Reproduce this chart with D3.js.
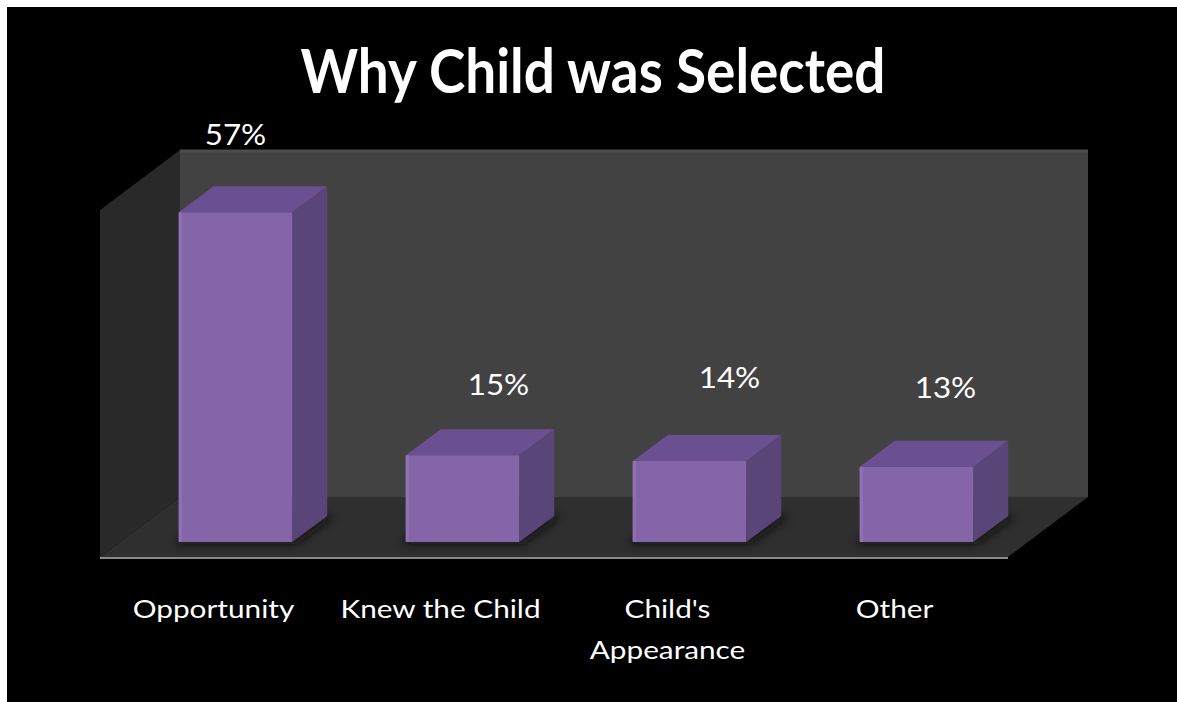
<!DOCTYPE html>
<html>
<head>
<meta charset="utf-8">
<script src="https://cdn.jsdelivr.net/npm/d3@7"></script>
<style>
  html, body { margin: 0; padding: 0; background: #ffffff; }
  svg { display: block; }
</style>
</head>
<body>
<svg id="chart" width="1177" height="702"></svg>
<script>
// ---- data ----
const title = "Why Child was Selected";
const categories = ["Opportunity", "Knew the Child", "Child's\nAppearance", "Other"];
const values = [0.57, 0.15, 0.14, 0.13];
const valueLabels = ["57%", "15%", "14%", "13%"];
const axisMax = 0.6;

// ---- layout (not data) ----
const W = 1177, H = 702;
const front = { left: 100, right: 1008, floor: 557, top: 210 };
const depth = { dx: 80, dy: -60 };        // wall depth
const barOff = { dx: 22, dy: -15 };       // bar front face offset into depth
const barDepth = { dx: 35, dy: -26 };     // bar thickness
const labelNudge = [[-35, -41], [1, -34], [5, -47], [-6, -43]]; // label placement relative to bar back-top centre
const textStretch = 1.19;                 // horizontal stretch of the original text rendering

const svg = d3.select("#chart");
const defs = svg.append("defs");
const blur = defs.append("filter").attr("id", "shadow").attr("x", "-50%").attr("y", "-50%").attr("width", "200%").attr("height", "200%");
blur.append("feGaussianBlur").attr("stdDeviation", 5);

svg.append("rect").attr("x", 7).attr("y", 7).attr("width", W - 7).attr("height", H - 7).attr("fill", "#000");

const x = d3.scaleBand().domain(categories).range([front.left, front.right]).paddingInner(0.5).paddingOuter(0.25);
const y = d3.scaleLinear().domain([0, axisMax]).range([front.floor, front.top]);

const pts = a => a.map(p => p.join(",")).join(" ");

// back wall
svg.append("polygon")
  .attr("points", pts([
    [front.left + depth.dx, front.top + depth.dy],
    [front.right + depth.dx, front.top + depth.dy],
    [front.right + depth.dx, front.floor + depth.dy],
    [front.left + depth.dx, front.floor + depth.dy]]))
  .attr("fill", "#424242");
svg.append("line")
  .attr("x1", front.left + depth.dx).attr("x2", front.right + depth.dx)
  .attr("y1", front.top + depth.dy + 1).attr("y2", front.top + depth.dy + 1)
  .attr("stroke", "#4c4c4c").attr("stroke-width", 3);

// left side wall
svg.append("polygon")
  .attr("points", pts([
    [front.left, front.top],
    [front.left + depth.dx, front.top + depth.dy],
    [front.left + depth.dx, front.floor + depth.dy],
    [front.left, front.floor]]))
  .attr("fill", "#292929");

// floor
svg.append("polygon")
  .attr("points", pts([
    [front.left, front.floor],
    [front.left + depth.dx, front.floor + depth.dy],
    [front.right + depth.dx, front.floor + depth.dy],
    [front.right, front.floor]]))
  .attr("fill", "#2f2f2f");
svg.append("line")
  .attr("x1", front.left).attr("x2", front.right)
  .attr("y1", front.floor + 1).attr("y2", front.floor + 1)
  .attr("stroke", "#8a8a8a").attr("stroke-width", 2);

// bars
const bars = svg.append("g");
categories.forEach((c, i) => {
  const x0 = x(c) + barOff.dx, x1 = x0 + x.bandwidth();
  const yb = y(0) + barOff.dy, yt = y(values[i]) + barOff.dy;
  const g = bars.append("g");
  // shadow
  g.append("polygon")
    .attr("points", pts([[x0 - 6, yb + 2], [x1 + 4, yb + 2], [x1 + barDepth.dx + 8, yb + barDepth.dy], [x0 + barDepth.dx, yb + barDepth.dy]]))
    .attr("fill", "#111").attr("opacity", 0.8).attr("filter", "url(#shadow)");
  // side
  g.append("polygon")
    .attr("points", pts([[x1, yt], [x1 + barDepth.dx, yt + barDepth.dy], [x1 + barDepth.dx, yb + barDepth.dy], [x1, yb]]))
    .attr("fill", "#5a4578");
  // top
  g.append("polygon")
    .attr("points", pts([[x0, yt], [x0 + barDepth.dx, yt + barDepth.dy], [x1 + barDepth.dx, yt + barDepth.dy], [x1, yt]]))
    .attr("fill", "#6a5090");
  // front
  g.append("rect")
    .attr("x", x0).attr("y", yt).attr("width", x1 - x0).attr("height", yb - yt)
    .attr("fill", "#8465a8");
  g.append("rect")
    .attr("x", x0).attr("y", yt).attr("width", 3).attr("height", yb - yt)
    .attr("fill", "#8f72b4");

  // value label
  const cx = (x0 + x1) / 2 + barDepth.dx;
  const ty = yt + barDepth.dy;
  svg.append("text")
    .attr("transform", `translate(${cx + labelNudge[i][0]},${ty + labelNudge[i][1]}) scale(1.08,1)`)
    .attr("text-anchor", "middle")
    .attr("font-family", "Lato, 'Open Sans', sans-serif")
    .attr("font-size", 29)
    .attr("fill", "#ffffff")
    .text(valueLabels[i]);
});

// category labels
categories.forEach(c => {
  const lines = c.split("\n");
  const cx = x(c) + x.bandwidth() / 2;
  const t = svg.append("text")
    .attr("transform", `translate(${cx},618) scale(${textStretch},1)`)
    .attr("text-anchor", "middle")
    .attr("font-family", "Lato, 'Open Sans', sans-serif")
    .attr("font-size", 25)
    .attr("fill", "#ffffff");
  lines.forEach((l, k) => {
    t.append("tspan").attr("x", 0).attr("dy", k === 0 ? 0 : 41).text(l);
  });
});

// title
svg.append("text")
  .attr("transform", "translate(593,93) scale(0.9,1)")
  .attr("text-anchor", "middle")
  .attr("font-family", "Lato, 'Open Sans', sans-serif")
  .attr("font-weight", "bold")
  .attr("font-size", 61)
  .attr("fill", "#ffffff")
  .text(title);
</script>
</body>
</html>
